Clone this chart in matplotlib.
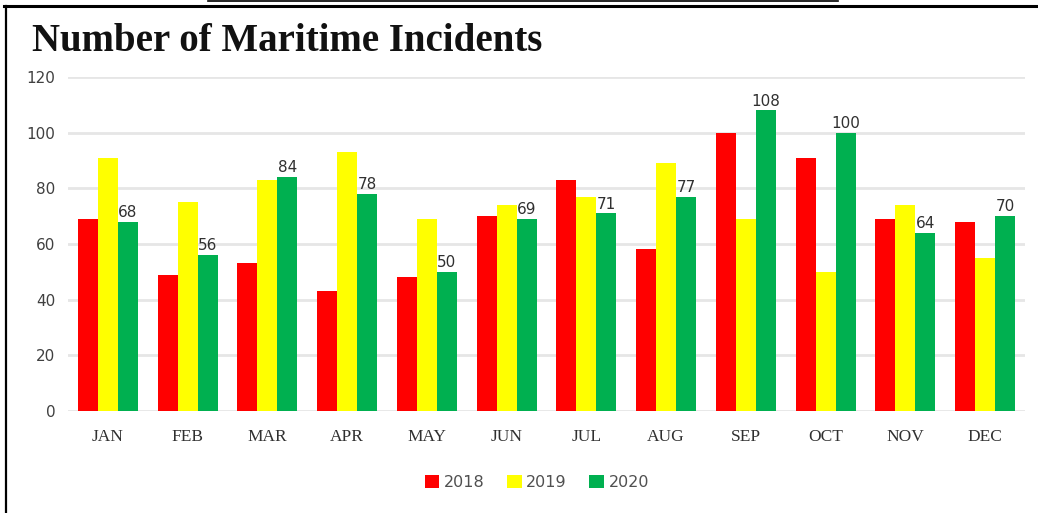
import numpy as np
import matplotlib
matplotlib.use('Agg')
from matplotlib import pyplot as plt
from matplotlib.lines import Line2D

months = ['JAN', 'FEB', 'MAR', 'APR', 'MAY', 'JUN', 'JUL', 'AUG', 'SEP', 'OCT', 'NOV', 'DEC']
y2018 = [69, 49, 53, 43, 48, 70, 83, 58, 100, 91, 69, 68]
y2019 = [91, 75, 83, 93, 69, 74, 77, 89, 69, 50, 74, 55]
y2020 = [68, 56, 84, 78, 50, 69, 71, 77, 108, 100, 64, 70]
years = ['2018', '2019', '2020']
colors = ['#ff0000', '#ffff00', '#00b050']

fig = plt.figure(figsize=(10.38, 5.13), dpi=100)
ax = fig.add_axes([0.0655, 0.199, 0.922, 0.651])

x = np.arange(len(months))
w = 0.25
series = [y2018, y2019, y2020]
bars = []
for i, s in enumerate(series):
    b = ax.bar(x + (i - 1) * w, s, w, color=colors[i], label=years[i], zorder=3)
    bars.append(b)

# labels on the 2020 bars only
for rect, v in zip(bars[2], y2020):
    ax.text(rect.get_x() + rect.get_width() / 2, v + 0.6, str(v),
            ha='center', va='bottom', fontsize=11, color='#303030',
            family='DejaVu Sans')

ax.set_xlim(-0.5, len(months) - 0.5)
ax.set_ylim(0, 120)
ax.set_yticks(np.arange(0, 121, 20))
ax.yaxis.grid(True, color='#e6e6e6', lw=2, zorder=0)
for sp in ax.spines.values():
    sp.set_visible(False)
ax.tick_params(axis='both', length=0)
ax.tick_params(axis='y', labelsize=11, labelcolor='#404040', pad=9)
ax.set_xticks(x)
ax.set_xticklabels(months, family='Liberation Serif', fontsize=12.5, color='#303030')
ax.tick_params(axis='x', pad=13)

fig.text(0.031, 0.92, 'Number of Maritime Incidents', family='Liberation Serif',
         fontsize=28, fontweight='bold', color='#111111', va='center', ha='left')

leg = ax.legend(loc='center', bbox_to_anchor=(0.49, -0.215), ncol=3, frameon=False,
                handlelength=0.9, handleheight=0.9, handletextpad=0.3, columnspacing=1.4,
                fontsize=11.5)
for t in leg.get_texts():
    t.set_color('#505050')

# page frame around the chart
fig.add_artist(Line2D([0.004, 1.0], [1 - 5.5 / 513] * 2, color='black', lw=2.2))
fig.add_artist(Line2D([0.0055, 0.0055], [0.0, 1 - 5.5 / 513], color='black', lw=1.6))
fig.add_artist(Line2D([208 / 1038, 838 / 1038], [1 - 0.8 / 513] * 2, color='black', lw=1.2))

fig.savefig('out.png', dpi=100)
